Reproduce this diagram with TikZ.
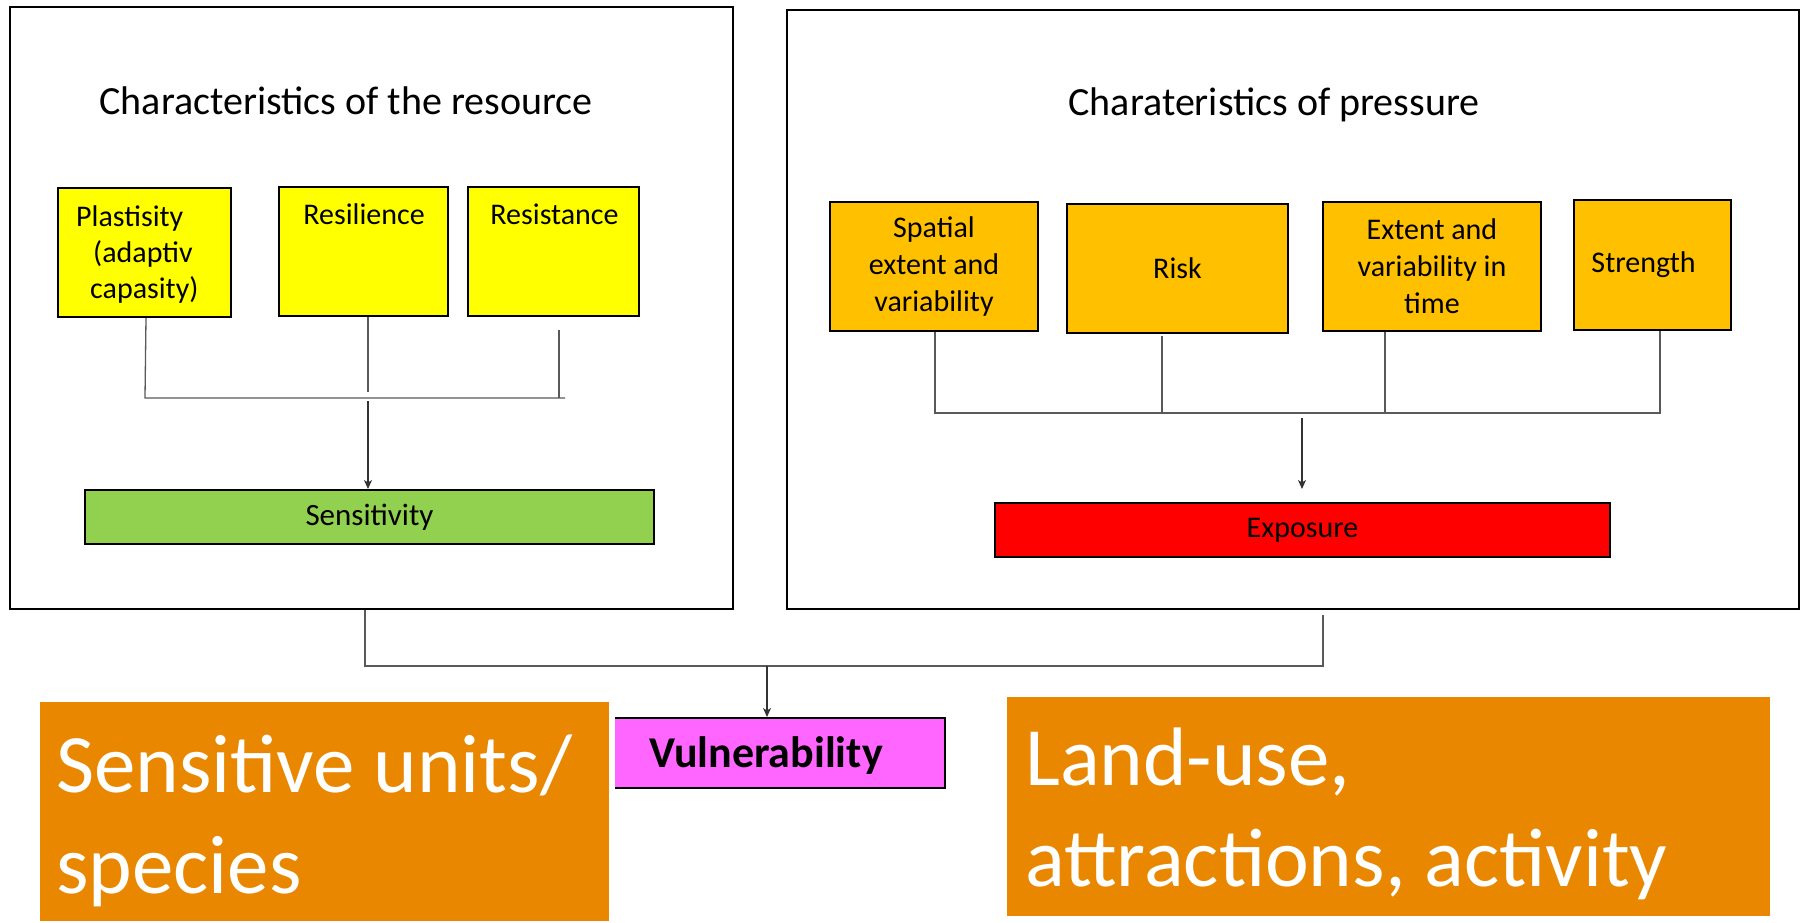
\documentclass[tikz,border=0pt]{standalone}
\usepackage{fontspec}
\setmainfont{Carlito}
\usetikzlibrary{arrows.meta,shadows}
\definecolor{ylw}{HTML}{FFFF00}
\definecolor{gold}{HTML}{FFC000}
\definecolor{grn}{HTML}{92D050}
\definecolor{redx}{HTML}{FF0000}
\definecolor{mag}{HTML}{FF66FF}
\definecolor{bigor}{HTML}{E98800}
\begin{document}
\begin{tikzpicture}[x=1pt,y=-1pt,
  frame/.style={draw=black,line width=2pt,inner sep=0pt,anchor=north west},
  box/.style={draw=black,line width=2pt,inner sep=0pt,font=\fontsize{30}{37}\selectfont,align=center},
  ttl/.style={anchor=base,inner sep=0pt,font=\fontsize{40}{46}\selectfont},
  btxt/.style={anchor=base,inner sep=0pt,font=\fontsize{30}{37}\selectfont},
  ltxt/.style={anchor=base west,inner sep=0pt,font=\fontsize{30}{37}\selectfont},
  bigbox/.style={draw=white,line width=6pt,fill=bigor,inner sep=0pt,anchor=north west,
     drop shadow={shadow xshift=2.5pt,shadow yshift=-2.5pt,opacity=0.35,fill=gray}},
  bigtxt/.style={anchor=base west,inner sep=0pt,text=white,font=\fontsize{83}{100}\selectfont},
  conn/.style={draw=black!65,line width=1.3pt},
  arr/.style={draw=black!80,line width=1.2pt,-{Stealth[length=9pt,width=8pt,inset=2.5pt]}}]
\useasboundingbox (0,0) rectangle (1800,922);

% frames
\node[frame,minimum width=723,minimum height=602] (frameL) at (9,6) {};
\node[frame,minimum width=1012,minimum height=599] (frameR) at (786,9) {};

% titles
\node[ttl] (titleL) at (346,114) {Characteristics of the resource};
\node[ttl] (titleR) at (1274,115) {Charateristics of pressure};

% resource boxes
\node[box,fill=ylw,minimum width=173,minimum height=129] (plast) at (144.5,252.5) {};
\node[ltxt] (plastA) at (76,226) {Plastisity};
\node[ltxt] (plastB) at (93,262) {(adaptiv};
\node[ltxt] (plastC) at (90,298) {capasity)};
\node[box,fill=ylw,minimum width=169,minimum height=129] (resil) at (363.5,251.5) {};
\node[btxt] (resilT) at (364,224) {Resilience};
\node[box,fill=ylw,minimum width=171,minimum height=129] (resist) at (553.5,251.5) {};
\node[btxt] (resistT) at (554.5,224) {Resistance};
\node[box,fill=grn,minimum width=569,minimum height=54,font=\fontsize{31}{37}\selectfont] (sens) at (369.5,517) {Sensitivity};

% pressure boxes
\node[box,fill=gold,minimum width=208,minimum height=129] (spat) at (934,266.5) {Spatial\\extent and\\variability};
\node[box,fill=gold,minimum width=221,minimum height=129] (risk) at (1177.5,268.5) {Risk};
\node[box,fill=gold,minimum width=218,minimum height=129] (extent) at (1432,266.5) {Extent and\\variability in\\time};
\node[box,fill=gold,minimum width=157,minimum height=130] (strength) at (1652.5,265) {\hspace*{-18pt}Strength};
\node[box,fill=redx,minimum width=615,minimum height=54] (expo) at (1302.5,530) {Exposure};

% vulnerability
\node[draw=black,line width=2pt,fill=mag,inner sep=0pt,minimum width=332,minimum height=70] (vuln) at (779,753) {};
\node[anchor=base,inner sep=0pt,font=\fontsize{44}{48}\selectfont\bfseries] (vulnT) at (766,767) {Vulnerability};

% big orange boxes
\node[bigbox,minimum width=575,minimum height=225] (sensunits) at (34,696) {};
\node[bigtxt] (suA) at (56,792) {Sensitive units/};
\node[bigtxt] (suB) at (56,893) {species};
\node[bigbox,minimum width=769,minimum height=225] (landuse) at (1001,691) {};
\node[bigtxt] (luA) at (1025,785) {Land-use,};
\node[bigtxt] (luB) at (1025,886) {attractions, activity};

% left connectors
\coordinate (jL1) at (145,398);
\coordinate (jL2) at (368,392);
\coordinate (jL3) at (565,398);
\coordinate (jL3t) at (559,330);
\coordinate (aL) at (368,401);
\draw[conn] ([xshift=1.5pt]plast.south) -- (jL1) -- (jL3);
\draw[conn] ([xshift=4.5pt]resil.south) -- (jL2);
\draw[conn] (jL3t) -- (559,398);
\draw[arr] (aL) -- (sens.north -| aL);

% right connectors
\coordinate (jR1) at (935,413);
\coordinate (jR4) at (1660,413);
\coordinate (jR2t) at (1162,336);
\coordinate (aR) at (1302,418);
\coordinate (aRend) at (1302,489);
\draw[conn] (spat.south -| jR1) -- (jR1) -- (jR4) -- (strength.south -| jR4);
\draw[conn] (jR2t) -- (jR2t |- jR1);
\draw[conn] ([xshift=-47pt]extent.south) -- ([xshift=-47pt]extent.south |- jR1);
\draw[arr] (aR) -- (aRend);

% bottom connectors
\coordinate (bL) at (365,666);
\coordinate (bR) at (1323,666);
\coordinate (bRt) at (1323,615);
\coordinate (aV) at (767,666);
\draw[conn] (frameL.south -| bL) -- (bL) -- (bR) -- (bRt);
\draw[arr] (aV) -- (vuln.north -| aV);
\end{tikzpicture}
\end{document}
